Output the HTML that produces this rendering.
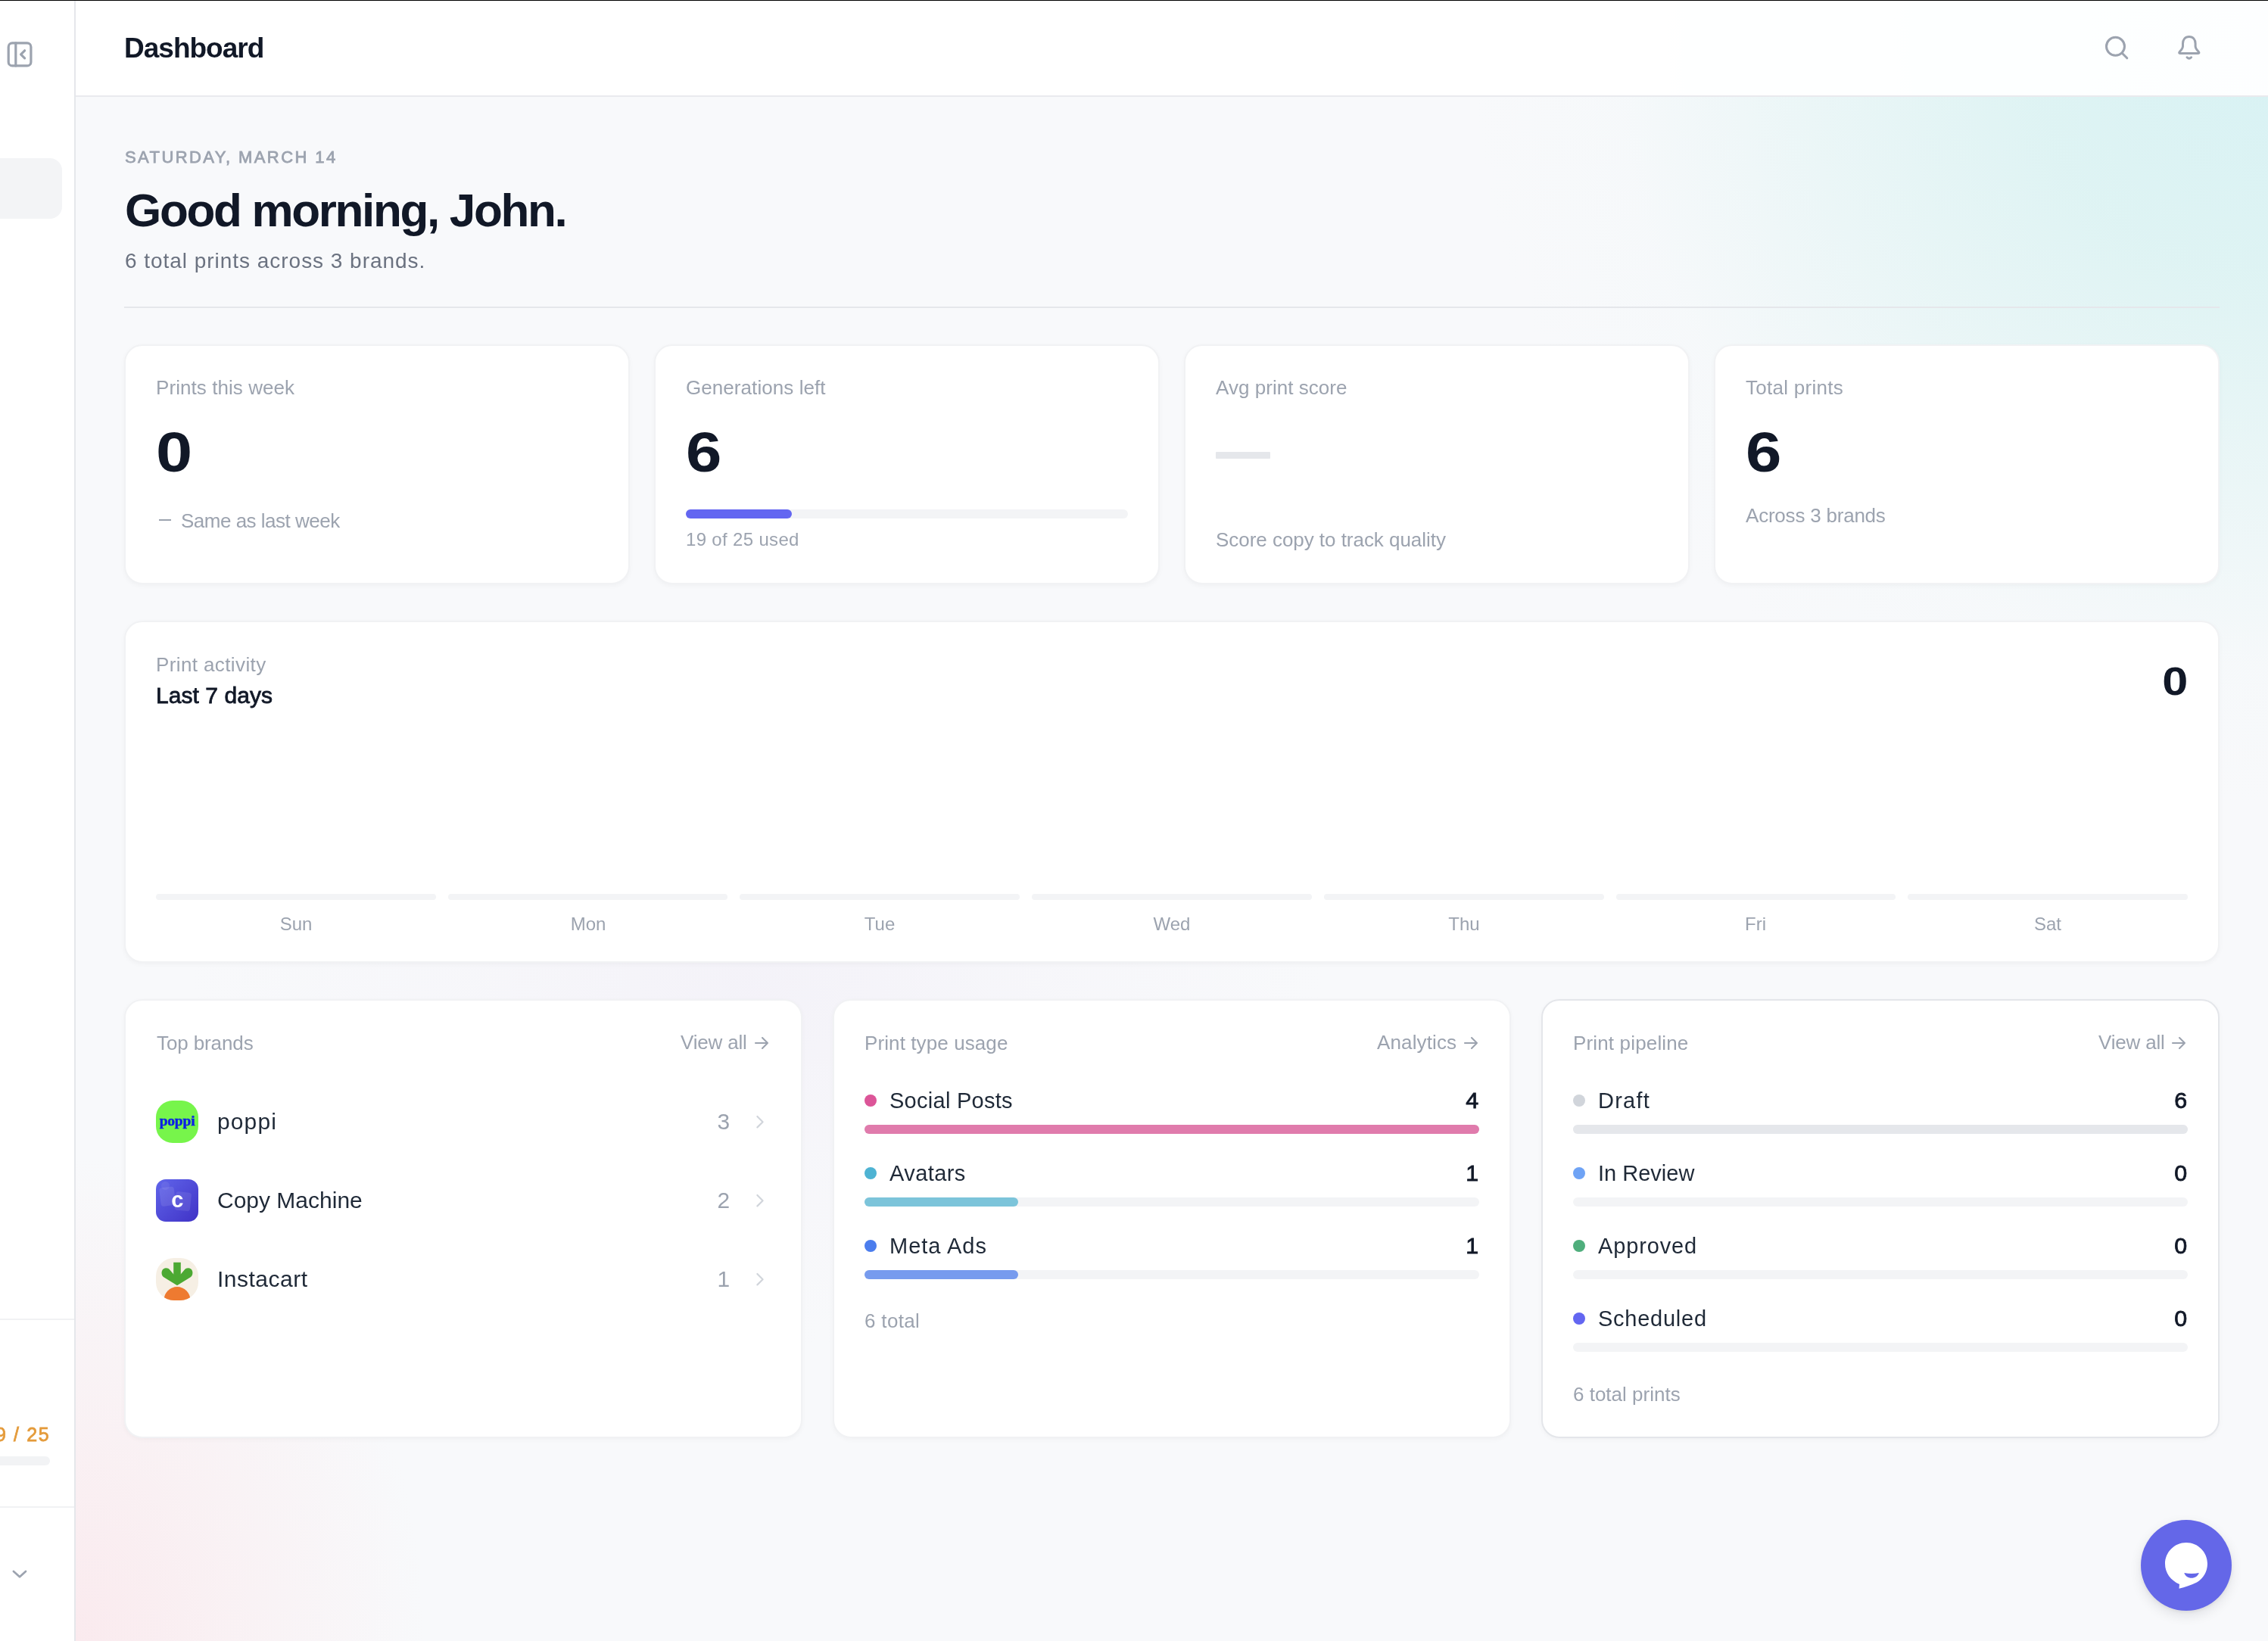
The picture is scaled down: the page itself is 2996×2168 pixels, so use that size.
<!DOCTYPE html>
<html><head><meta charset="utf-8"><title>Dashboard</title>
<style>
html,body{margin:0;padding:0;}
body{-webkit-font-smoothing:antialiased;width:2996px;height:2168px;position:relative;overflow:hidden;background:#f8f9fb;font-family:"Liberation Sans",sans-serif;}
.t{position:absolute;white-space:nowrap;will-change:transform;}
.r{position:absolute;}
.bg{position:absolute;left:100px;top:0px;width:2896px;height:2168px;
background:
radial-gradient(ellipse 1050px 1000px at 2896px 60px, rgba(216,242,244,1) 0%, rgba(221,243,243,0.95) 30%, rgba(226,244,244,0.6) 58%, rgba(238,247,248,0.2) 82%, rgba(248,249,251,0) 100%),
radial-gradient(ellipse 460px 640px at 0px 2168px, rgba(250,234,238,1) 0%, rgba(250,237,240,0.65) 45%, rgba(248,249,251,0) 100%),
radial-gradient(ellipse 750px 480px at 900px 1300px, rgba(243,241,248,0.85) 0%, rgba(245,244,249,0.5) 50%, rgba(248,249,251,0) 100%),
#f8f9fb;}
.card{position:absolute;box-sizing:border-box;background:#fff;border:2px solid #f1f2f4;border-radius:24px;box-shadow:0 2px 6px rgba(17,24,39,0.035);}
</style></head><body>
<div class="bg"></div>
<div class="r" style="left:0;top:0;width:98px;height:2168px;background:#ffffff;"></div>
<div class="r" style="left:98px;top:0;width:2px;height:2168px;background:#e5e7eb;"></div>
<svg class="r" style="left:0px;top:45px" width="55" height="55" viewBox="0 45 55 55" fill="none" stroke="#9ca3af" stroke-width="3.2" stroke-linecap="round" stroke-linejoin="round">
<rect x="11.2" y="56.9" width="29.7" height="30" rx="5"/><path d="M20.8 56.9v30"/><path d="M32.6 66.8l-5 5 5 5"/></svg>
<div class="r" style="left:-20px;top:209px;width:102px;height:80px;background:#f3f4f6;border-radius:16px;"></div>
<div class="r" style="left:0px;top:1742px;width:98px;height:2px;background:#f1f2f4;border-radius:0px;"></div>
<div class="t" id="sb925" style="top:1882.83px;font-size:25px;line-height:25px;font-weight:400;-webkit-text-stroke:0.8px #e49b3b;color:#e49b3b;letter-spacing:1.600px;right:2929.40px;"><span>9 / 25</span></div>
<div class="r" style="left:-20px;top:1924px;width:86px;height:12px;background:#f2f3f5;border-radius:6px;"></div>
<div class="r" style="left:0px;top:1990px;width:98px;height:2px;background:#f1f2f4;border-radius:0px;"></div>
<svg class="r" style="left:0px;top:2050px" width="60" height="60" viewBox="0 2050 60 60" fill="none" stroke="#9ca3af" stroke-width="2.7" stroke-linecap="round" stroke-linejoin="round"><path d="M17.9 2076l8.1 7.3 8-7.3"/></svg>
<div class="r" style="left:100px;top:0;width:2896px;height:126px;background:rgba(255,255,255,0.93);"></div>
<div class="r" style="left:100px;top:126px;width:2896px;height:2px;background:#e9eaee;"></div>
<div class="r" style="left:0;top:0;width:2996px;height:1px;background:#000;"></div>
<div class="t" id="dash" style="top:44.87px;font-size:37px;line-height:37px;font-weight:700;color:#111827;letter-spacing:-1.000px;left:164px;"><span>Dashboard</span></div>
<svg class="r" style="left:2760px;top:30px" width="160" height="60" viewBox="2760 30 160 60" fill="none" stroke="#9ca3af" stroke-width="3" stroke-linecap="round" stroke-linejoin="round">
<circle cx="2794.5" cy="61.3" r="12"/><path d="M2803.8 70.8l6 6"/>
<path d="M2891.8 48.4C2886.3 48.4 2883.5 52.6 2883.5 57.6L2883.5 61C2883.5 64 2881.5 66 2879.4 68.2C2878 69.7 2878.6 70.6 2880.6 70.6L2903 70.6C2905 70.6 2905.6 69.7 2904.2 68.2C2902.1 66 2900.1 64 2900.1 61L2900.1 57.6C2900.1 52.6 2897.3 48.4 2891.8 48.4Z"/>
<path d="M2889 75.8Q2891.8 78.6 2894.6 75.8"/></svg>
<div class="t" id="date" style="top:197.37px;font-size:22px;line-height:22px;font-weight:400;-webkit-text-stroke:0.8px #9ca3af;color:#9ca3af;letter-spacing:2.411px;left:165px;"><span>SATURDAY, MARCH 14</span></div>
<div class="t" id="greet" style="top:247.10px;font-size:62px;line-height:62px;font-weight:700;color:#111827;letter-spacing:-2.333px;left:165px;"><span>Good morning, John.</span></div>
<div class="t" id="sub" style="top:331.29px;font-size:28px;line-height:28px;font-weight:400;color:#6b7280;letter-spacing:0.967px;left:165px;"><span>6 total prints across 3 brands.</span></div>
<div class="r" style="left:164px;top:405px;width:2768px;height:2px;background:#e5e7eb;border-radius:0px;"></div>
<div class="card" style="left:164px;top:455px;width:668px;height:317px;"></div>
<div class="card" style="left:864px;top:455px;width:668px;height:317px;"></div>
<div class="card" style="left:1564px;top:455px;width:668px;height:317px;"></div>
<div class="card" style="left:2264px;top:455px;width:668px;height:317px;"></div>
<div class="t" id="l1" style="top:498.99px;font-size:26px;line-height:26px;font-weight:400;color:#9ca3af;letter-spacing:0.067px;left:206px;"><span>Prints this week</span></div>
<div class="t" id="n1" style="top:561.34px;font-size:74px;line-height:74px;font-weight:700;color:#111827;letter-spacing:0.000px;left:206px;transform:scaleX(1.17);transform-origin:left center;"><span>0</span></div>
<div class="r" style="left:210px;top:686px;width:16px;height:2px;background:#9ca3af;border-radius:0px;"></div>
<div class="t" id="s1" style="top:674.59px;font-size:26px;line-height:26px;font-weight:400;color:#9ca3af;letter-spacing:-0.500px;left:238.6px;"><span>Same as last week</span></div>
<div class="t" id="l2" style="top:498.99px;font-size:26px;line-height:26px;font-weight:400;color:#9ca3af;letter-spacing:0.067px;left:906px;"><span>Generations left</span></div>
<div class="t" id="n2" style="top:561.34px;font-size:74px;line-height:74px;font-weight:700;color:#111827;letter-spacing:0.000px;left:906px;transform:scaleX(1.15);transform-origin:left center;"><span>6</span></div>
<div class="r" style="left:906px;top:673px;width:584px;height:12px;background:#f3f4f6;border-radius:6px;"></div>
<div class="r" style="left:906px;top:673px;width:140px;height:12px;background:#6366f1;border-radius:6px;"></div>
<div class="t" id="s2" style="top:701.18px;font-size:24px;line-height:24px;font-weight:400;color:#9ca3af;letter-spacing:0.333px;left:906px;"><span>19 of 25 used</span></div>
<div class="t" id="l3" style="top:498.99px;font-size:26px;line-height:26px;font-weight:400;color:#9ca3af;letter-spacing:0.036px;left:1606px;"><span>Avg print score</span></div>
<div class="r" style="left:1606px;top:597px;width:72px;height:9px;background:#e5e7eb;border-radius:1px;"></div>
<div class="t" id="s3" style="top:699.79px;font-size:26px;line-height:26px;font-weight:400;color:#9ca3af;letter-spacing:-0.038px;left:1606px;"><span>Score copy to track quality</span></div>
<div class="t" id="l4" style="top:498.99px;font-size:26px;line-height:26px;font-weight:400;color:#9ca3af;letter-spacing:0.274px;left:2306px;"><span>Total prints</span></div>
<div class="t" id="n4" style="top:561.34px;font-size:74px;line-height:74px;font-weight:700;color:#111827;letter-spacing:0.000px;left:2306px;transform:scaleX(1.15);transform-origin:left center;"><span>6</span></div>
<div class="t" id="s4" style="top:667.99px;font-size:26px;line-height:26px;font-weight:400;color:#9ca3af;letter-spacing:-0.214px;left:2306px;"><span>Across 3 brands</span></div>
<div class="card" style="left:164px;top:820px;width:2768px;height:452px;"></div>
<div class="t" id="pa" style="top:864.99px;font-size:26px;line-height:26px;font-weight:400;color:#9ca3af;letter-spacing:0.385px;left:206px;"><span>Print activity</span></div>
<div class="t" id="l7" style="top:903.60px;font-size:30px;line-height:30px;font-weight:400;-webkit-text-stroke:0.8px #111827;color:#111827;letter-spacing:0.050px;left:206px;"><span>Last 7 days</span></div>
<div class="t" id="n0" style="top:875.02px;font-size:51px;line-height:51px;font-weight:700;color:#111827;letter-spacing:0.000px;right:106.00px;transform:scaleX(1.2);transform-origin:right center;"><span>0</span></div>
<div class="r" style="left:206.0px;top:1181px;width:369.71px;height:8px;background:#f3f4f6;border-radius:4px;"></div>
<div class="t" id="dSun" style="top:1208.68px;font-size:24px;line-height:24px;font-weight:400;color:#9ca3af;letter-spacing:0.000px;left:-9.14285714285711px;width:800px;text-align:center;text-indent:0.000px;"><span>Sun</span></div>
<div class="r" style="left:591.71px;top:1181px;width:369.71px;height:8px;background:#f3f4f6;border-radius:4px;"></div>
<div class="t" id="dMon" style="top:1208.68px;font-size:24px;line-height:24px;font-weight:400;color:#9ca3af;letter-spacing:0.000px;left:376.57142857142867px;width:800px;text-align:center;text-indent:0.000px;"><span>Mon</span></div>
<div class="r" style="left:977.43px;top:1181px;width:369.71px;height:8px;background:#f3f4f6;border-radius:4px;"></div>
<div class="t" id="dTue" style="top:1208.68px;font-size:24px;line-height:24px;font-weight:400;color:#9ca3af;letter-spacing:0.000px;left:762.2857142857142px;width:800px;text-align:center;text-indent:0.000px;"><span>Tue</span></div>
<div class="r" style="left:1363.14px;top:1181px;width:369.71px;height:8px;background:#f3f4f6;border-radius:4px;"></div>
<div class="t" id="dWed" style="top:1208.68px;font-size:24px;line-height:24px;font-weight:400;color:#9ca3af;letter-spacing:0.000px;left:1148.0px;width:800px;text-align:center;text-indent:0.000px;"><span>Wed</span></div>
<div class="r" style="left:1748.86px;top:1181px;width:369.71px;height:8px;background:#f3f4f6;border-radius:4px;"></div>
<div class="t" id="dThu" style="top:1208.68px;font-size:24px;line-height:24px;font-weight:400;color:#9ca3af;letter-spacing:0.000px;left:1533.7142857142858px;width:800px;text-align:center;text-indent:0.000px;"><span>Thu</span></div>
<div class="r" style="left:2134.57px;top:1181px;width:369.71px;height:8px;background:#f3f4f6;border-radius:4px;"></div>
<div class="t" id="dFri" style="top:1208.68px;font-size:24px;line-height:24px;font-weight:400;color:#9ca3af;letter-spacing:0.000px;left:1919.428571428571px;width:800px;text-align:center;text-indent:0.000px;"><span>Fri</span></div>
<div class="r" style="left:2520.29px;top:1181px;width:369.71px;height:8px;background:#f3f4f6;border-radius:4px;"></div>
<div class="t" id="dSat" style="top:1208.68px;font-size:24px;line-height:24px;font-weight:400;color:#9ca3af;letter-spacing:0.000px;left:2305.142857142857px;width:800px;text-align:center;text-indent:0.000px;"><span>Sat</span></div>
<div class="card" style="left:164px;top:1320px;width:896px;height:580px;"></div>
<div class="card" style="left:1100px;top:1320px;width:896px;height:580px;"></div>
<div class="card" style="left:2036px;top:1320px;width:896px;height:580px;border-color:#e4e6ea;"></div>
<div class="t" id="tb" style="top:1364.69px;font-size:26px;line-height:26px;font-weight:400;color:#9ca3af;letter-spacing:-0.111px;left:207px;"><span>Top brands</span></div>
<div class="t" id="va1" style="top:1363.99px;font-size:26px;line-height:26px;font-weight:400;color:#9ca3af;letter-spacing:-0.190px;right:2009.19px;"><span>View all</span></div>
<svg class="r" style="left:991.2px;top:1366.2px" width="26" height="24" viewBox="991.2 1366.2 26 24" fill="none" stroke="#9ca3af" stroke-width="2.1" stroke-linecap="round" stroke-linejoin="round"><path d="M998.2 1378.2H1014.2M1007.2 1371.2L1014.2 1378.2L1007.2 1385.2"/></svg>
<div class="t" id="bn0" style="top:1466.60px;font-size:30px;line-height:30px;font-weight:400;color:#1f2937;letter-spacing:1.125px;left:287px;"><span>poppi</span></div>
<div class="t" id="bc0" style="top:1468.45px;font-size:29px;line-height:29px;font-weight:400;color:#9ca3af;letter-spacing:0.000px;right:2032.00px;transform:scaleX(1.03);transform-origin:right center;"><span>3</span></div>
<svg class="r" style="left:991px;top:1468px" width="28" height="28" viewBox="0 0 28 28" fill="none" stroke="#d1d5db" stroke-width="2.2" stroke-linecap="round" stroke-linejoin="round"><path d="M9.4 20.1l7.2-7.2-7.2-7.2" transform="translate(0,1.3)"/></svg>
<div class="t" id="bn1" style="top:1570.60px;font-size:30px;line-height:30px;font-weight:400;color:#1f2937;letter-spacing:0.000px;left:287px;"><span>Copy Machine</span></div>
<div class="t" id="bc1" style="top:1572.45px;font-size:29px;line-height:29px;font-weight:400;color:#9ca3af;letter-spacing:0.000px;right:2032.00px;transform:scaleX(1.03);transform-origin:right center;"><span>2</span></div>
<svg class="r" style="left:991px;top:1572px" width="28" height="28" viewBox="0 0 28 28" fill="none" stroke="#d1d5db" stroke-width="2.2" stroke-linecap="round" stroke-linejoin="round"><path d="M9.4 20.1l7.2-7.2-7.2-7.2" transform="translate(0,1.3)"/></svg>
<div class="t" id="bn2" style="top:1674.60px;font-size:30px;line-height:30px;font-weight:400;color:#1f2937;letter-spacing:0.500px;left:287px;"><span>Instacart</span></div>
<div class="t" id="bc2" style="top:1676.45px;font-size:29px;line-height:29px;font-weight:400;color:#9ca3af;letter-spacing:0.000px;right:2032.00px;transform:scaleX(1.03);transform-origin:right center;"><span>1</span></div>
<svg class="r" style="left:991px;top:1676px" width="28" height="28" viewBox="0 0 28 28" fill="none" stroke="#d1d5db" stroke-width="2.2" stroke-linecap="round" stroke-linejoin="round"><path d="M9.4 20.1l7.2-7.2-7.2-7.2" transform="translate(0,1.3)"/></svg>
<svg class="r" style="left:206px;top:1454px" width="56" height="56" viewBox="0 0 56 56"><rect width="56" height="56" rx="22" fill="#77f54b"/>
<text style="will-change:transform" x="28" y="33" text-anchor="middle" font-family="Liberation Serif" font-weight="700" font-size="19.5" fill="#0b1fe6" stroke="#0b1fe6" stroke-width="0.5" letter-spacing="-0.2">poppi</text></svg>
<svg class="r" style="left:206px;top:1558px" width="56" height="56" viewBox="0 0 56 56">
<defs><linearGradient id="cmg" x1="0" y1="0" x2="1" y2="1"><stop offset="0" stop-color="#6065ea"/><stop offset="1" stop-color="#4032c6"/></linearGradient></defs>
<rect width="56" height="56" rx="13" fill="url(#cmg)"/>
<circle cx="12.5" cy="8.5" r="5.5" fill="#fff" fill-opacity="0.07"/>
<rect x="5.5" y="10.5" width="19.5" height="24.5" rx="3.5" fill="#fff" fill-opacity="0.10" transform="rotate(-7 15 23)"/>
<rect x="25.5" y="17" width="20.5" height="24.5" rx="3.5" fill="#fff" fill-opacity="0.09" transform="rotate(6 36 29)"/>
<text style="will-change:transform" x="28.3" y="37.2" text-anchor="middle" font-family="Liberation Sans" font-weight="700" font-size="29" fill="#fff">c</text></svg>
<svg class="r" style="left:206px;top:1662px" width="56" height="56" viewBox="0 0 56 56">
<defs><clipPath id="icc"><rect width="56" height="56" rx="24"/></clipPath></defs>
<g clip-path="url(#icc)"><rect width="56" height="56" fill="#f6efe4"/>
<rect x="23.2" y="5.8" width="9.6" height="22" fill="#4ca933"/>
<path d="M28 36.2L10.6 25.6C6.8 23.3 6.6 17 9.8 14.6C12.6 12.5 16.2 13.1 18.2 15.6L28 27L37.8 15.6C39.8 13.1 43.4 12.5 46.2 14.6C49.4 17 49.2 23.3 45.4 25.6Z" fill="#4ca933"/>
<path d="M10.6 55.5A17.4 17.4 0 0 1 45.4 55.5Z" fill="#ee7a30"/><rect x="10.6" y="55" width="34.8" height="2" fill="#ee7a30"/></g></svg>
<div class="t" id="ptu" style="top:1364.69px;font-size:26px;line-height:26px;font-weight:400;color:#9ca3af;letter-spacing:0.100px;left:1142px;"><span>Print type usage</span></div>
<div class="t" id="an" style="top:1363.99px;font-size:26px;line-height:26px;font-weight:400;color:#9ca3af;letter-spacing:0.125px;right:1071.88px;"><span>Analytics</span></div>
<svg class="r" style="left:1928.2px;top:1366.2px" width="26" height="24" viewBox="1928.2 1366.2 26 24" fill="none" stroke="#9ca3af" stroke-width="2.1" stroke-linecap="round" stroke-linejoin="round"><path d="M1935.2 1378.2H1951.2M1944.2 1371.2L1951.2 1378.2L1944.2 1385.2"/></svg>
<div class="r" style="left:1142px;top:1446px;width:16px;height:16px;background:#dc5598;border-radius:8px;"></div>
<div class="t" id="tn0" style="top:1439.75px;font-size:29px;line-height:29px;font-weight:400;color:#1f2937;letter-spacing:0.273px;left:1175px;"><span>Social Posts</span></div>
<div class="t" id="tc0" style="top:1439.75px;font-size:29px;line-height:29px;font-weight:400;-webkit-text-stroke:0.8px #111827;color:#111827;letter-spacing:0.000px;right:1042.80px;transform:scaleX(1.05);transform-origin:right center;"><span>4</span></div>
<div class="r" style="left:1142px;top:1486px;width:812px;height:12px;background:#f3f4f6;border-radius:6px;"></div>
<div class="r" style="left:1142px;top:1486px;width:812.0px;height:12px;background:#e07bac;border-radius:6px;"></div>
<div class="r" style="left:1142px;top:1542px;width:16px;height:16px;background:#4eb3d3;border-radius:8px;"></div>
<div class="t" id="tn1" style="top:1535.75px;font-size:29px;line-height:29px;font-weight:400;color:#1f2937;letter-spacing:0.417px;left:1175px;"><span>Avatars</span></div>
<div class="t" id="tc1" style="top:1535.75px;font-size:29px;line-height:29px;font-weight:400;-webkit-text-stroke:0.8px #111827;color:#111827;letter-spacing:0.000px;right:1042.80px;transform:scaleX(1.05);transform-origin:right center;"><span>1</span></div>
<div class="r" style="left:1142px;top:1582px;width:812px;height:12px;background:#f3f4f6;border-radius:6px;"></div>
<div class="r" style="left:1142px;top:1582px;width:203.0px;height:12px;background:#7cc4da;border-radius:6px;"></div>
<div class="r" style="left:1142px;top:1638px;width:16px;height:16px;background:#4b7ded;border-radius:8px;"></div>
<div class="t" id="tn2" style="top:1631.75px;font-size:29px;line-height:29px;font-weight:400;color:#1f2937;letter-spacing:1.000px;left:1175px;"><span>Meta Ads</span></div>
<div class="t" id="tc2" style="top:1631.75px;font-size:29px;line-height:29px;font-weight:400;-webkit-text-stroke:0.8px #111827;color:#111827;letter-spacing:0.000px;right:1042.80px;transform:scaleX(1.05);transform-origin:right center;"><span>1</span></div>
<div class="r" style="left:1142px;top:1678px;width:812px;height:12px;background:#f3f4f6;border-radius:6px;"></div>
<div class="r" style="left:1142px;top:1678px;width:203.0px;height:12px;background:#779bee;border-radius:6px;"></div>
<div class="t" id="tt" style="top:1731.99px;font-size:26px;line-height:26px;font-weight:400;color:#9ca3af;letter-spacing:0.333px;left:1142px;"><span>6 total</span></div>
<div class="t" id="pp" style="top:1364.69px;font-size:26px;line-height:26px;font-weight:400;color:#9ca3af;letter-spacing:0.154px;left:2078px;"><span>Print pipeline</span></div>
<div class="t" id="va2" style="top:1363.99px;font-size:26px;line-height:26px;font-weight:400;color:#9ca3af;letter-spacing:-0.190px;right:136.19px;"><span>View all</span></div>
<svg class="r" style="left:2863.4px;top:1366.2px" width="26" height="24" viewBox="2863.4 1366.2 26 24" fill="none" stroke="#9ca3af" stroke-width="2.1" stroke-linecap="round" stroke-linejoin="round"><path d="M2870.4 1378.2H2886.4M2879.4 1371.2L2886.4 1378.2L2879.4 1385.2"/></svg>
<div class="r" style="left:2078px;top:1446px;width:16px;height:16px;background:#d1d5db;border-radius:8px;"></div>
<div class="t" id="qn0" style="top:1439.75px;font-size:29px;line-height:29px;font-weight:400;color:#1f2937;letter-spacing:1.250px;left:2111px;"><span>Draft</span></div>
<div class="t" id="qc0" style="top:1439.75px;font-size:29px;line-height:29px;font-weight:400;-webkit-text-stroke:0.8px #111827;color:#111827;letter-spacing:0.000px;right:106.80px;transform:scaleX(1.05);transform-origin:right center;"><span>6</span></div>
<div class="r" style="left:2078px;top:1486px;width:812px;height:12px;background:#f3f4f6;border-radius:6px;"></div>
<div class="r" style="left:2078px;top:1486px;width:812.0px;height:12px;background:#e5e7eb;border-radius:6px;"></div>
<div class="r" style="left:2078px;top:1542px;width:16px;height:16px;background:#6fa3f5;border-radius:8px;"></div>
<div class="t" id="qn1" style="top:1535.75px;font-size:29px;line-height:29px;font-weight:400;color:#1f2937;letter-spacing:0.000px;left:2111px;"><span>In Review</span></div>
<div class="t" id="qc1" style="top:1535.75px;font-size:29px;line-height:29px;font-weight:400;-webkit-text-stroke:0.8px #111827;color:#111827;letter-spacing:0.000px;right:106.80px;transform:scaleX(1.05);transform-origin:right center;"><span>0</span></div>
<div class="r" style="left:2078px;top:1582px;width:812px;height:12px;background:#f3f4f6;border-radius:6px;"></div>
<div class="r" style="left:2078px;top:1638px;width:16px;height:16px;background:#4fae7c;border-radius:8px;"></div>
<div class="t" id="qn2" style="top:1631.75px;font-size:29px;line-height:29px;font-weight:400;color:#1f2937;letter-spacing:0.858px;left:2111px;"><span>Approved</span></div>
<div class="t" id="qc2" style="top:1631.75px;font-size:29px;line-height:29px;font-weight:400;-webkit-text-stroke:0.8px #111827;color:#111827;letter-spacing:0.000px;right:106.80px;transform:scaleX(1.05);transform-origin:right center;"><span>0</span></div>
<div class="r" style="left:2078px;top:1678px;width:812px;height:12px;background:#f3f4f6;border-radius:6px;"></div>
<div class="r" style="left:2078px;top:1734px;width:16px;height:16px;background:#6366f1;border-radius:8px;"></div>
<div class="t" id="qn3" style="top:1727.75px;font-size:29px;line-height:29px;font-weight:400;color:#1f2937;letter-spacing:0.750px;left:2111px;"><span>Scheduled</span></div>
<div class="t" id="qc3" style="top:1727.75px;font-size:29px;line-height:29px;font-weight:400;-webkit-text-stroke:0.8px #111827;color:#111827;letter-spacing:0.000px;right:106.80px;transform:scaleX(1.05);transform-origin:right center;"><span>0</span></div>
<div class="r" style="left:2078px;top:1774px;width:812px;height:12px;background:#f3f4f6;border-radius:6px;"></div>
<div class="t" id="qt" style="top:1828.79px;font-size:26px;line-height:26px;font-weight:400;color:#9ca3af;letter-spacing:0.000px;left:2078px;"><span>6 total prints</span></div>
<div class="r" style="left:2828px;top:2008px;width:120px;height:120px;border-radius:60px;background:#6467e8;box-shadow:0 6px 16px rgba(17,24,39,0.10),0 2px 4px rgba(17,24,39,0.06);"></div>
<svg class="r" style="left:2848px;top:2028px" width="80" height="80" viewBox="0 0 80 80"><path d="M40 10C55.5 10 68 22.5 68 38C68 48.5 62.5 57.5 54 62.5C47 66 38 69 30.5 70.7L31 65C19.5 60 12 50 12 38C12 22.5 24.5 10 40 10Z" fill="#fff"/><path d="M37.3 50C43.5 51.2 50.5 51.2 56.8 50C55.5 54.2 51.5 56.8 47 56.8C42.5 56.8 38.6 54.2 37.3 50Z" fill="#6467e8"/></svg>
</body></html>
